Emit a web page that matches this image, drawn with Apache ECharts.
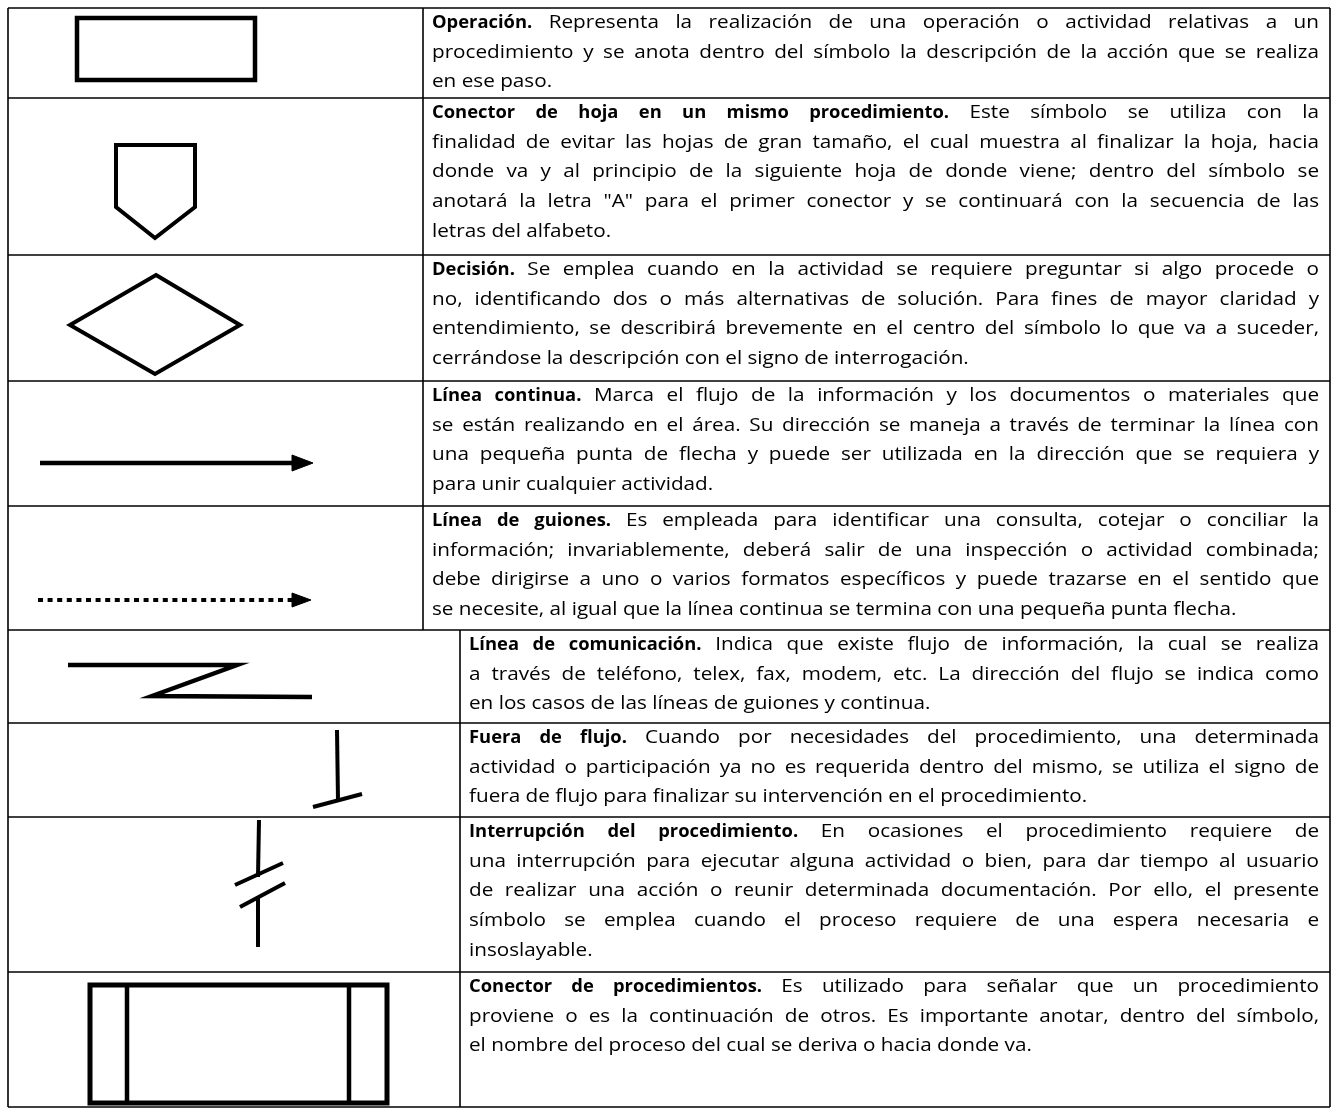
<!DOCTYPE html>
<html>
<head>
<meta charset="utf-8">
<script src="https://cdn.jsdelivr.net/npm/echarts@6/dist/echarts.min.js"></script>
<style>
html,body{margin:0;padding:0;background:#ffffff;}
#chart{width:1333px;height:1109px;}
</style>
</head>
<body>
<div id="chart"></div>
<script>
// ---------------- DATA ----------------
const symbolKinds = [
  'operacion', 'conectorHoja', 'decision', 'lineaContinua', 'lineaGuiones',
  'lineaComunicacion', 'fueraFlujo', 'interrupcion', 'conectorProcedimientos'
];

const titles = [
  'Operación.',
  'Conector de hoja en un mismo procedimiento.',
  'Decisión.',
  'Línea continua.',
  'Línea de guiones.',
  'Línea de comunicación.',
  'Fuera de flujo.',
  'Interrupción del procedimiento.',
  'Conector de procedimientos.'
];

const descriptionLines = [
  [
    'Representa la realización de una operación o actividad relativas a un',
    'procedimiento y se anota dentro del símbolo la descripción de la acción que se realiza',
    'en ese paso.'
  ],
  [
    'Este símbolo se utiliza con la',
    'finalidad de evitar las hojas de gran tamaño, el cual muestra al finalizar la hoja, hacia',
    'donde va y al principio de la siguiente hoja de donde viene; dentro del símbolo se',
    'anotará la letra "A" para el primer conector y se continuará con la secuencia de las',
    'letras del alfabeto.'
  ],
  [
    'Se emplea cuando en la actividad se requiere preguntar si algo procede o',
    'no, identificando dos o más alternativas de solución. Para fines de mayor claridad y',
    'entendimiento, se describirá brevemente en el centro del símbolo lo que va a suceder,',
    'cerrándose la descripción con el signo de interrogación.'
  ],
  [
    'Marca el flujo de la información y los documentos o materiales que',
    'se están realizando en el área. Su dirección se maneja a través de terminar la línea con',
    'una pequeña punta de flecha y puede ser utilizada en la dirección que se requiera y',
    'para unir cualquier actividad.'
  ],
  [
    'Es empleada para identificar una consulta, cotejar o conciliar la',
    'información; invariablemente, deberá salir de una inspección o actividad combinada;',
    'debe dirigirse a uno o varios formatos específicos y puede trazarse en el sentido que',
    'se necesite, al igual que la línea continua se termina con una pequeña punta flecha.'
  ],
  [
    'Indica que existe flujo de información, la cual se realiza',
    'a través de teléfono, telex, fax, modem, etc. La dirección del flujo se indica como',
    'en los casos de las líneas de guiones y continua.'
  ],
  [
    'Cuando por necesidades del procedimiento, una determinada',
    'actividad o participación ya no es requerida dentro del mismo, se utiliza el signo de',
    'fuera de flujo para finalizar su intervención en el procedimiento.'
  ],
  [
    'En ocasiones el procedimiento requiere de',
    'una interrupción para ejecutar alguna actividad o bien, para dar tiempo al usuario',
    'de realizar una acción o reunir determinada documentación. Por ello, el presente',
    'símbolo se emplea cuando el proceso requiere de una espera necesaria e',
    'insoslayable.'
  ],
  [
    'Es utilizado para señalar que un procedimiento',
    'proviene o es la continuación de otros. Es importante anotar, dentro del símbolo,',
    'el nombre del proceso del cual se deriva o hacia donde va.'
  ]
];

// ---------------- LAYOUT (pixel space of the hidden axes) ----------------
const PAGE_W = 1333, PAGE_H = 1109;
const rowEdges = [8, 98, 255, 381, 506, 630, 723, 817, 972, 1107];
const tableLeft = 8, tableRight = 1330;
const dividerX = [423, 423, 423, 423, 423, 460, 460, 460, 460];
const textPadLeft = 9, textRight = 1319;
const FONT_FAMILY = '"Open Sans", "Noto Sans", sans-serif';
const FONT_SIZE = 18;
const TEXT_SCALE_X = 1.15;
const TITLE_SCALE_X = 1.02;
const BODY_WEIGHT = 500;
const LINE_PITCH = 29.6;
const FIRST_LINE_OFFSET = 15;
const INK = '#000000';

const symbolShapes = {
  operacion: [{t: 'rect', x1: 77, y1: 18, x2: 255, y2: 80, w: 4.5}],
  conectorHoja: [{t: 'polygon', pts: [[116,145],[195,145],[195,207],[155,238],[116,207]], w: 4}],
  decision: [{t: 'polygon', pts: [[156,275],[240,325],[155,374],[70,325]], w: 4}],
  lineaContinua: [
    {t: 'line', pts: [[40,463],[294,463]], w: 4.5},
    {t: 'fillPolygon', pts: [[292,455],[313,463],[292,471]]}
  ],
  lineaGuiones: [
    {t: 'line', pts: [[38,600],[292,600]], w: 4, dash: [5, 4.6]},
    {t: 'fillPolygon', pts: [[292,593],[311,600],[292,607]]}
  ],
  lineaComunicacion: [{t: 'polyline', pts: [[68,665],[237,665],[152,696],[312,697]], w: 4.5}],
  fueraFlujo: [
    {t: 'line', pts: [[337,730],[338,801]], w: 4},
    {t: 'line', pts: [[313,807],[362,794]], w: 4}
  ],
  interrupcion: [
    {t: 'line', pts: [[259,820],[258,877]], w: 4},
    {t: 'line', pts: [[235,885],[283,863]], w: 4},
    {t: 'line', pts: [[240,907],[285,883]], w: 4},
    {t: 'line', pts: [[258,896],[258,947]], w: 4}
  ],
  conectorProcedimientos: [
    {t: 'rect', x1: 90, y1: 985, x2: 387, y2: 1103, w: 5},
    {t: 'line', pts: [[127,985],[127,1103]], w: 4.5},
    {t: 'line', pts: [[349,985],[349,1103]], w: 4.5}
  ]
};

// ---------------- TEXT MEASUREMENT ----------------
const mctx = document.createElement('canvas').getContext('2d');
function fontStr(bold) { return (bold ? 'bold ' : BODY_WEIGHT + ' ') + FONT_SIZE + 'px ' + FONT_FAMILY; }
function measure(text, bold) { mctx.font = fontStr(bold); return mctx.measureText(text).width; }

function layoutRowWords(i) {
  const words = [];
  const left = dividerX[i] + textPadLeft;
  const avail = textRight - left;
  const lines = descriptionLines[i];
  const space = measure(' ', false);
  lines.forEach(function (line, j) {
    let tokens = [];
    if (j === 0) {
      titles[i].split(' ').forEach(function (w) { tokens.push({text: w, bold: true}); });
    }
    line.split(' ').filter(function (w) { return w.length; }).forEach(function (w) { tokens.push({text: w, bold: false}); });
    tokens.forEach(function (tk) { tk.w = measure(tk.text, tk.bold) * (tk.bold ? TITLE_SCALE_X / TEXT_SCALE_X : 1); });
    const sum = tokens.reduce(function (a, tk) { return a + tk.w; }, 0);
    const n = tokens.length;
    let s = TEXT_SCALE_X;
    const natural = (sum + (n - 1) * space) * s;
    if (natural > avail) s = avail / (sum + (n - 1) * space);
    const isLast = j === lines.length - 1;
    let gap = space * s;
    if (!isLast && n > 1) gap = Math.max(space * s, (avail - sum * s) / (n - 1));
    let x = left;
    const y = rowEdges[i] + FIRST_LINE_OFFSET + j * LINE_PITCH;
    tokens.forEach(function (tk) {
      words.push({text: tk.text, bold: tk.bold, x: x, y: y, s: tk.bold ? s * TITLE_SCALE_X / TEXT_SCALE_X : s});
      x += tk.w * s + gap;
    });
  });
  return words;
}

// ---------------- CHART ----------------
const chart = echarts.init(document.getElementById('chart'), null, {renderer: 'canvas'});

function renderRow(params, api) {
  const i = api.value(0);
  const P = function (x, y) { return api.coord([x, y]); };
  const children = [];
  const top = rowEdges[i], bottom = rowEdges[i + 1];
  const border = {stroke: '#000000', lineWidth: 1.6};

  function hLine(y, x1, x2) {
    const a = P(x1, y), b = P(x2, y);
    children.push({type: 'line', shape: {x1: a[0], y1: a[1], x2: b[0], y2: b[1]}, style: border});
  }
  function vLine(x, y1, y2) {
    const a = P(x, y1), b = P(x, y2);
    children.push({type: 'line', shape: {x1: a[0], y1: a[1], x2: b[0], y2: b[1]}, style: border});
  }
  hLine(top, tableLeft, tableRight);
  if (i === rowEdges.length - 2) hLine(bottom, tableLeft, tableRight);
  vLine(tableLeft, top, bottom);
  vLine(dividerX[i], top, bottom);
  vLine(tableRight, top, bottom);

  // symbol
  symbolShapes[symbolKinds[i]].forEach(function (s) {
    if (s.t === 'rect') {
      const a = P(s.x1, s.y1), b = P(s.x2, s.y2);
      children.push({type: 'rect', shape: {x: a[0], y: a[1], width: b[0] - a[0], height: b[1] - a[1]},
        style: {fill: 'none', stroke: INK, lineWidth: s.w, lineJoin: 'miter'}});
    } else if (s.t === 'polygon') {
      children.push({type: 'polygon', shape: {points: s.pts.map(function (p) { return P(p[0], p[1]); })},
        style: {fill: 'none', stroke: INK, lineWidth: s.w, lineJoin: 'miter'}});
    } else if (s.t === 'fillPolygon') {
      children.push({type: 'polygon', shape: {points: s.pts.map(function (p) { return P(p[0], p[1]); })},
        style: {fill: INK, stroke: INK, lineWidth: 1}});
    } else if (s.t === 'polyline') {
      children.push({type: 'polyline', shape: {points: s.pts.map(function (p) { return P(p[0], p[1]); })},
        style: {fill: 'none', stroke: INK, lineWidth: s.w, lineJoin: 'miter', lineCap: 'butt'}});
    } else if (s.t === 'line') {
      const a = P(s.pts[0][0], s.pts[0][1]), b = P(s.pts[1][0], s.pts[1][1]);
      const st = {stroke: INK, lineWidth: s.w, lineCap: 'butt'};
      if (s.dash) st.lineDash = s.dash;
      children.push({type: 'line', shape: {x1: a[0], y1: a[1], x2: b[0], y2: b[1]}, style: st});
    }
  });

  // text
  layoutRowWords(i).forEach(function (w) {
    const p = P(w.x, w.y);
    children.push({type: 'text', x: p[0], y: p[1], scaleX: w.s, style: {
      text: w.text, x: 0, y: 0, fill: INK,
      fontSize: FONT_SIZE, fontFamily: FONT_FAMILY, fontWeight: w.bold ? 'bold' : BODY_WEIGHT,
      textAlign: 'left', textVerticalAlign: 'middle'
    }});
  });

  return {type: 'group', children: children};
}

chart.setOption({
  backgroundColor: '#ffffff',
  animation: false,
  grid: {left: 0, right: 0, top: 0, bottom: 0},
  xAxis: {type: 'value', min: 0, max: PAGE_W, show: false},
  yAxis: {type: 'value', min: 0, max: PAGE_H, inverse: true, show: false},
  series: [{
    type: 'custom',
    silent: true,
    clip: false,
    data: symbolKinds.map(function (k, i) { return [i]; }),
    encode: {x: 0, y: 0},
    renderItem: renderRow
  }]
});
</script>
</body>
</html>
